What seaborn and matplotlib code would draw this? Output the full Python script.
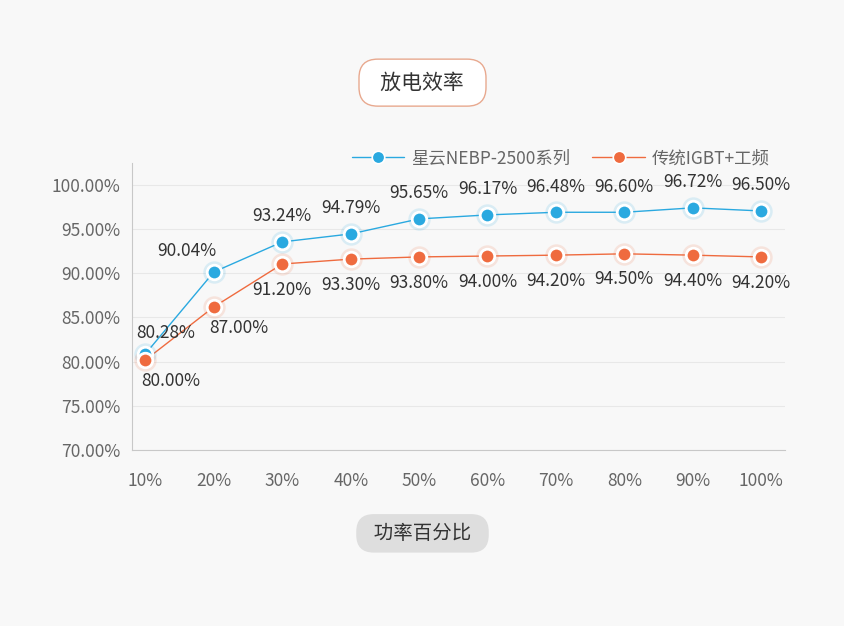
import matplotlib.pyplot as plt
import seaborn as sns
import pandas as pd

# data
loads = ['10%', '20%', '30%', '40%', '50%', '60%', '70%', '80%', '90%', '100%']
xingyun = [80.9, 90.15, 93.55, 94.45, 96.15, 96.6, 96.9, 96.9, 97.4, 97.05]
xingyun_labels = ['80.28%', '90.04%', '93.24%', '94.79%', '95.65%', '96.17%', '96.48%', '96.60%', '96.72%', '96.50%']
igbt = [80.2, 86.2, 91.05, 91.6, 91.85, 91.95, 92.05, 92.2, 92.05, 91.85]
igbt_labels = ['80.00%', '87.00%', '91.20%', '93.30%', '93.80%', '94.00%', '94.20%', '94.50%', '94.40%', '94.20%']
y_ticks = [70, 75, 80, 85, 90, 95, 100]

sns.set_style('white')
plt.rcParams['font.family'] = ['Noto Sans CJK SC', 'DejaVu Sans']

blue = '#2aa9e0'
orange = '#ef6b3f'
bg = '#f8f8f8'
fs = 12.5

df = pd.DataFrame({'idx': list(range(len(loads))), 'xy': xingyun, 'igbt': igbt})

fig = plt.figure(figsize=(8.45, 6.26), dpi=100, facecolor=bg)
ax = fig.add_axes([0.156, 0.281, 0.773, 0.459], facecolor=bg)

for col, c, lab in [('xy', blue, '星云NEBP-2500系列'), ('igbt', orange, '传统IGBT+工频')]:
    sns.lineplot(data=df, x='idx', y=col, ax=ax, color=c, lw=1, zorder=2)
    ax.scatter(df['idx'], df[col], s=260, color=c, alpha=0.15, zorder=3, linewidths=0)
    ax.scatter(df['idx'], df[col], s=110, color=c, edgecolors='white', linewidths=2, zorder=4)
    ax.plot([], [], color=c, lw=1, marker='o', ms=9, mec='white', mew=1.2, label=lab)

for i, (v, t) in enumerate(zip(xingyun, xingyun_labels)):
    if i == 0:
        ax.text(i + 0.3, v + 2.4, t, ha='center', va='center', fontsize=fs, color='#333')
    elif i == 1:
        ax.text(i - 0.4, v + 2.4, t, ha='center', va='center', fontsize=fs, color='#333')
    else:
        ax.text(i, v + 2.9, t, ha='center', va='center', fontsize=fs, color='#333')
for i, (v, t) in enumerate(zip(igbt, igbt_labels)):
    if i <= 1:
        ax.text(i + 0.37, v - 2.4, t, ha='center', va='center', fontsize=fs, color='#333')
    else:
        ax.text(i, v - 2.9, t, ha='center', va='center', fontsize=fs, color='#333')

ax.set_xlim(-0.2, 9.35)
ax.set_ylim(70, 102.5)
ax.set_xticks(range(len(loads)))
ax.set_xticklabels(loads)
ax.set_yticks(y_ticks)
ax.set_yticklabels([f'{t:.2f}%' for t in y_ticks])
ax.tick_params(colors='#666', labelsize=fs, length=0)
ax.tick_params(axis='x', pad=16)
ax.tick_params(axis='y', pad=8)
ax.grid(axis='y', color='#e8e8e8', lw=0.8)
ax.set_xlabel('')
ax.set_ylabel('')
for s in ['top', 'right']:
    ax.spines[s].set_visible(False)
for s in ['left', 'bottom']:
    ax.spines[s].set_color('#c8c8c8')

ax.legend(loc='lower right', bbox_to_anchor=(1.0, 0.93), ncol=2, frameon=False,
          fontsize=fs, labelcolor='#666', handlelength=3.0, handletextpad=0.4,
          columnspacing=1.3)

fig.text(0.5, 0.868, '放电效率', ha='center', va='center', fontsize=15, color='#333',
         bbox=dict(boxstyle='round,pad=0.6,rounding_size=0.9', fc='white', ec='#e8a98f', lw=1),
         ).set_text('  放电效率  ')
fig.text(0.5, 0.148, '  功率百分比  ', ha='center', va='center', fontsize=14, color='#333',
         bbox=dict(boxstyle='round,pad=0.45,rounding_size=0.9', fc='#dedede', ec='none'))

plt.savefig('out.png', dpi=100, facecolor=bg)
